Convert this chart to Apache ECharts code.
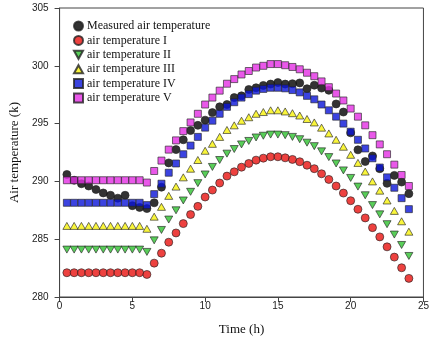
<!DOCTYPE html>
<html>
<head>
<meta charset="utf-8">
<script src="https://cdn.jsdelivr.net/npm/echarts@6/dist/echarts.min.js"></script>
<style>
  html, body { margin: 0; padding: 0; background: #fff; }
  #chart { width: 432px; height: 341px; }
</style>
</head>
<body>
<div id="chart"></div>
<script>
// time of day (h), one point every half hour
const hours = [0.5, 1, 1.5, 2, 2.5, 3, 3.5, 4, 4.5, 5, 5.5, 6, 6.5, 7, 7.5, 8, 8.5, 9, 9.5, 10,
  10.5, 11, 11.5, 12, 12.5, 13, 13.5, 14, 14.5, 15, 15.5, 16, 16.5, 17, 17.5, 18, 18.5, 19, 19.5, 20,
  20.5, 21, 21.5, 22, 22.5, 23, 23.5, 24];

const measured = [290.6, 290.1, 289.8, 289.6, 289.3, 289.0, 288.8, 288.55, 288.8, 287.9, 287.75, 287.65,
  288.15, 289.5, 291.6, 292.75, 293.6, 294.4, 294.85, 295.3, 295.95, 296.45, 296.65, 297.25, 297.4, 297.95,
  298.1, 298.3, 298.42, 298.55, 298.42, 298.45, 298.52, 298.02, 298.32, 298.07, 297.88, 296.7, 296.0, 294.2,
  292.73, 291.72, 292.2, 291.1, 289.83, 290.52, 289.94, 288.94];

const tempI = [282.1, 282.1, 282.1, 282.1, 282.1, 282.1, 282.1, 282.1, 282.1, 282.1, 282.1, 281.95,
  282.93, 283.79, 284.74, 285.54, 286.35, 287.13, 287.84, 288.65, 289.25, 289.86, 290.46, 290.83, 291.23, 291.55,
  291.84, 292.01, 292.13, 292.13, 292.04, 291.9, 291.7, 291.4, 291.1, 290.66, 290.17, 289.6, 288.99, 288.33,
  287.59, 286.84, 286.0, 285.2, 284.34, 283.45, 282.53, 281.61];

const tempII = [284.1, 284.1, 284.1, 284.1, 284.1, 284.1, 284.1, 284.1, 284.1, 284.1, 284.1, 283.9,
  284.9, 285.8, 286.7, 287.5, 288.35, 289.1, 289.85, 290.6, 291.25, 291.85, 292.4, 292.8, 293.2, 293.5,
  293.8, 293.95, 294.05, 294.05, 294.0, 293.85, 293.65, 293.35, 293.05, 292.6, 292.1, 291.55, 290.95, 290.3,
  289.55, 288.8, 287.95, 287.15, 286.3, 285.4, 284.5, 283.55];

const tempIII = [286.15, 286.15, 286.15, 286.15, 286.15, 286.15, 286.15, 286.15, 286.15, 286.15, 286.15, 285.9,
  286.95, 287.8, 288.75, 289.55, 290.35, 291.1, 291.85, 292.65, 293.25, 293.85, 294.45, 294.85, 295.25, 295.55,
  295.85, 296.0, 296.15, 296.15, 296.05, 295.9, 295.7, 295.4, 295.1, 294.65, 294.15, 293.6, 293.0, 292.3,
  291.6, 290.85, 290.0, 289.2, 288.35, 287.45, 286.55, 285.65];

const tempIV = [288.15, 288.15, 288.15, 288.15, 288.15, 288.15, 288.15, 288.15, 288.15, 288.15, 288.15, 287.95,
  288.9, 289.8, 290.75, 291.55, 292.35, 293.1, 293.85, 294.65, 295.25, 295.85, 296.45, 296.85, 297.25, 297.55,
  297.85, 298.0, 298.1, 298.1, 298.05, 297.9, 297.7, 297.4, 297.1, 296.65, 296.15, 295.6, 295.0, 294.3,
  293.6, 292.85, 292.0, 291.2, 290.35, 289.45, 288.55, 287.6];

const tempV = [290.1, 290.1, 290.1, 290.1, 290.1, 290.1, 290.1, 290.1, 290.1, 290.1, 290.1, 289.9,
  290.9, 291.8, 292.75, 293.55, 294.35, 295.1, 295.85, 296.65, 297.25, 297.85, 298.45, 298.85, 299.25, 299.55,
  299.85, 300.0, 300.15, 300.15, 300.05, 299.9, 299.7, 299.4, 299.1, 298.65, 298.15, 297.6, 297.0, 296.3,
  295.6, 294.85, 294.0, 293.2, 292.35, 291.45, 290.55, 289.6];

const pair = arr => hours.map((h, i) => [h, arr[i]]);

const triDown = 'path://M0,0 L10,0 L5,9 Z';
const triUp = 'path://M5,0 L10,9 L0,9 Z';

const chart = echarts.init(document.getElementById('chart'));

const axisCommon = {
  axisLine: {lineStyle: {color: '#444', width: 1}},
  axisTick: {inside: false, length: 5, lineStyle: {color: '#444'}},
  axisLabel: {color: '#222', fontFamily: 'Liberation Sans', fontSize: 10},
  splitLine: {show: false},
  nameTextStyle: {color: '#111', fontFamily: 'Liberation Serif', fontSize: 13},
};

chart.setOption({
  animation: false,
  grid: {left: 56, right: 4, top: 8, bottom: 43, show: true, borderColor: '#444', borderWidth: 1},
  legend: {
    orient: 'vertical',
    left: 73,
    top: 20,
    padding: 0,
    itemWidth: 9,
    itemHeight: 9,
    itemGap: 2.4,
    textStyle: {fontFamily: 'Liberation Serif', fontSize: 12, color: '#111', padding: [0, 0, 0, -1]},
  },
  xAxis: {
    ...axisCommon,
    type: 'value',
    min: 0, max: 25, interval: 5,
    name: 'Time (h)',
    nameLocation: 'middle',
    nameGap: 26,
    axisLabel: {...axisCommon.axisLabel, margin: 4},
  },
  yAxis: {
    ...axisCommon,
    type: 'value',
    min: 280, max: 305, interval: 5,
    name: 'Air temperature (k)',
    nameLocation: 'middle',
    nameGap: 35,
    axisLabel: {...axisCommon.axisLabel, margin: 11},
  },
  series: [
    {name: 'Measured air temperature', data: pair(measured), symbol: 'circle', symbolSize: 8, color: '#000'},
    {name: 'air temperature I', data: pair(tempI), symbol: 'circle', symbolSize: 8, color: '#e8120f'},
    {name: 'air temperature II', data: pair(tempII), symbol: triDown, symbolSize: [8, 7], color: '#2fc22f'},
    {name: 'air temperature III', data: pair(tempIII), symbol: triUp, symbolSize: [8, 7], color: '#f7f20a'},
    {name: 'air temperature IV', data: pair(tempIV), symbol: 'rect', symbolSize: 7, color: '#0a14d8'},
    {name: 'air temperature V', data: pair(tempV), symbol: 'rect', symbolSize: 7, color: '#e42ee4'},
  ].map(s => ({
    ...s,
    type: 'scatter',
    itemStyle: {color: s.color, borderColor: '#222', borderWidth: 0.8},
  })),
});
</script>
</body>
</html>
